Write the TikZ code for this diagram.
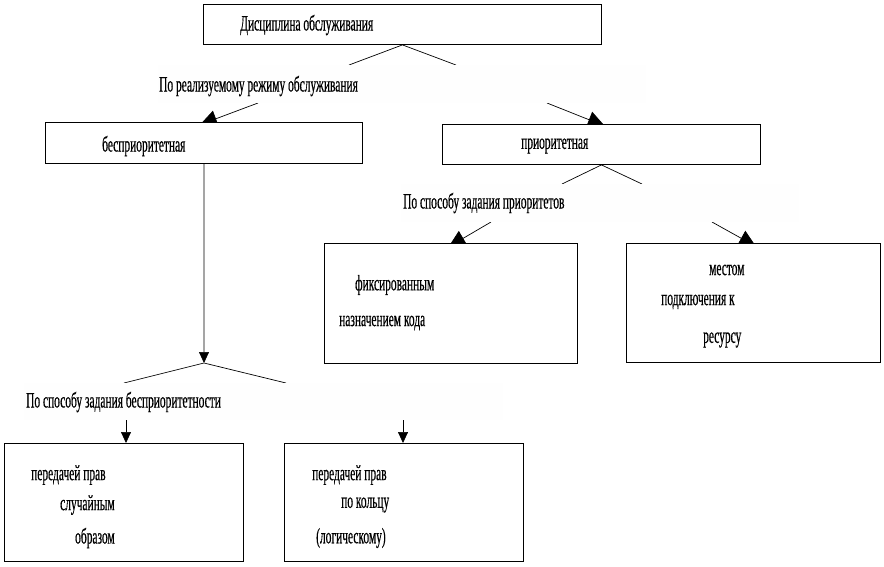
\documentclass[tikz,border=0pt]{standalone}
\usepackage{fontspec}
\setmainfont[FakeStretch=0.52,FakeBold=0.4]{Liberation Serif}
\usetikzlibrary{arrows.meta}
\pgfdeclarelayer{bg}
\pgfsetlayers{bg,main}
\begin{document}
\begin{tikzpicture}[x=1pt,y=-1pt,
  box/.style={draw,fill=white,line width=0.9pt,inner sep=0pt,anchor=north west},
  txt/.style={anchor=west,inner sep=0pt,font=\fontsize{22}{26}\selectfont},
  band/.style={fill=black!0.5,inner sep=0pt,anchor=north west},
  conn/.style={line width=0.7pt},
  arr/.style={conn,-{Triangle[width=17pt,length=17pt]}},
  arrs/.style={conn,-{Triangle[width=10pt,length=11pt]}}]
\useasboundingbox (0,0) rectangle (884,566);
% label bands
\node[band,minimum width=488pt,minimum height=38pt] (b1) at (158,65) {};
\node[band,minimum width=398pt,minimum height=38pt] (b2) at (401,184) {};
\node[band,minimum width=479pt,minimum height=37pt] (b3) at (24,383) {};
% boxes
\node[box,minimum width=398pt,minimum height=40pt] (top) at (203,4) {};
\node[box,minimum width=317pt,minimum height=41pt] (bp) at (45,122) {};
\node[box,minimum width=318pt,minimum height=40pt] (pr) at (442,124) {};
\node[box,minimum width=253pt,minimum height=120pt] (fix) at (324,243) {};
\node[box,minimum width=254pt,minimum height=119pt] (mes) at (626,243) {};
\node[box,minimum width=239pt,minimum height=118pt] (rnd) at (4,443) {};
\node[box,minimum width=239pt,minimum height=118pt] (ring) at (284,443) {};
% label texts
\node[txt] (l1) at (159,86) {По реализуемому режиму обслуживания};
\node[txt] (l2) at (403,203) {По способу задания приоритетов};
\node[txt] (l3) at (26,402) {По способу задания бесприоритетности};
% box texts
\node[txt] (t0) at (240,25) {Дисциплина обслуживания};
\node[txt] (tbp) at (102,146) {бесприоритетная};
\node[txt] (tpr) at (521,146) {приоритетная};
\node[txt] (tf1) at (355,285) {фиксированным};
\node[txt] (tf2) at (339,323) {назначением кода};
\node[txt] (tm1) at (709,270) {местом};
\node[txt] (tm2) at (661,302) {подключения к};
\node[txt] (tm3) at (703,340) {ресурсу};
\node[txt] (tr1) at (31,475) {передачей прав};
\node[txt] (tr2) at (60,505) {случайным};
\node[txt] (tr3) at (75,538) {образом};
\node[txt] (tk1) at (312,475) {передачей прав};
\node[txt] (tk2) at (341,505) {по кольцу};
\node[txt] (tk3) at (316,538) {(логическому)};
% connector points
\coordinate (c1l) at (349,65);
\coordinate (c1r) at (456,65);
\coordinate (s1l) at (258,103);
\coordinate (e1l) at (200,124.7);
\coordinate (s1r) at (547,103);
\coordinate (e1r) at (604.8,126);
\coordinate (c2l) at (562,184);
\coordinate (c2r) at (642,184);
\coordinate (s2l) at (491,222);
\coordinate (e2l) at (448.5,246.9);
\coordinate (s2r) at (712,222);
\coordinate (e2r) at (756,246.5);
\coordinate (a3) at (204,363);
\coordinate (c3l) at (124,383);
\coordinate (c3r) at (286,383);
\coordinate (s3l) at (126,420);
\coordinate (s3r) at (403,420);
\begin{pgfonlayer}{bg}
\draw[conn] (c1l) -- (top.south) -- (c1r);
\draw[arr] (s1l) -- (e1l);
\draw[arr] (s1r) -- (e1r);
\draw[conn] (c2l) -- (pr.south) -- (c2r);
\draw[arr] (s2l) -- (e2l);
\draw[arr] (s2r) -- (e2r);
\draw[arrs] (bp.south) -- (a3);
\draw[conn] (c3l) -- (a3) -- (c3r);
\draw[arrs] (s3l) -- (s3l |- rnd.north);
\draw[arrs] (s3r) -- (s3r |- ring.north);
\end{pgfonlayer}
\end{tikzpicture}
\end{document}
